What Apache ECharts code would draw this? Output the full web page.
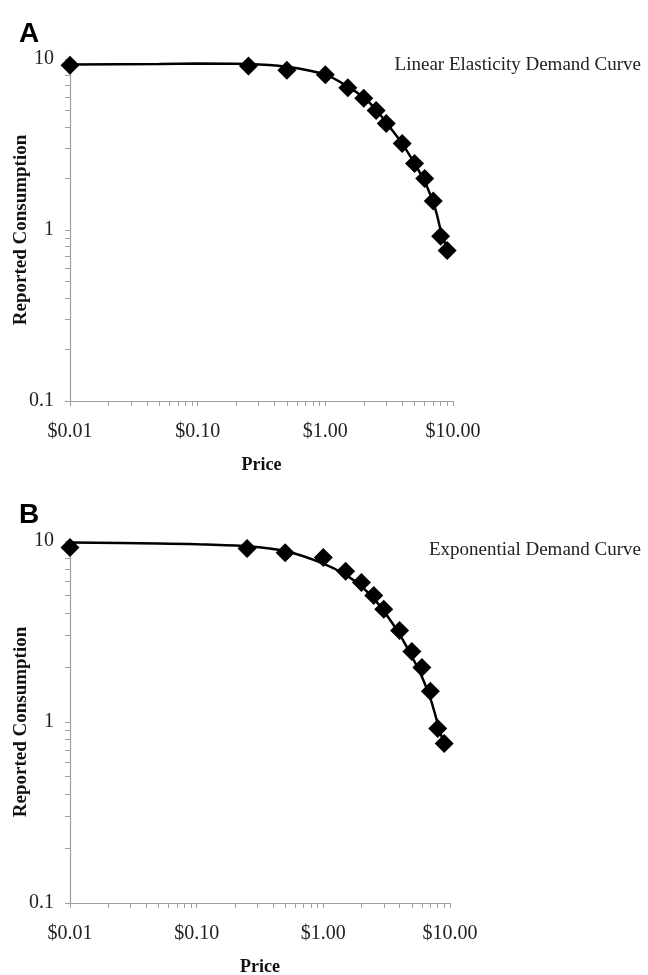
<!DOCTYPE html>
<html>
<head>
<meta charset="utf-8">
<script src="https://cdn.jsdelivr.net/npm/echarts@6/dist/echarts.min.js"></script>
<style>
  html, body { margin: 0; padding: 0; background: #fff; }
  #chart { width: 648px; height: 975px; }
</style>
</head>
<body>
<div id="chart"></div>
<script>
// observed prices and reported consumption (same data in both panels)
var prices = [0.01, 0.25, 0.5, 1, 1.5, 2, 2.5, 3, 4, 5, 6, 7, 8, 9];
var consumption = [9.2, 9.1, 8.6, 8.1, 6.8, 5.9, 5.0, 4.2, 3.2, 2.45, 2.0, 1.48, 0.92, 0.76];

// fitted curves
var curvePrices = [0.01, 0.05, 0.1, 0.25, 0.5, 1, 1.5, 2, 2.5, 3, 4, 5, 6, 7, 7.5, 8, 8.5, 9];
var linearCurve = [9.3, 9.35, 9.4, 9.35, 9.0, 8.1, 6.9, 5.95, 5.05, 4.25, 3.2, 2.45, 1.92, 1.45, 1.22, 1.0, 0.87, 0.77];
var expCurve = [9.8, 9.7, 9.6, 9.35, 8.8, 7.5, 6.5, 5.6, 4.8, 4.1, 3.05, 2.3, 1.78, 1.35, 1.15, 0.98, 0.85, 0.75];

// tick labels
var xTickLabels = [0.01, 0.1, 1, 10];
var yTickLabels = [0.1, 1, 10];

var panelNames = ['A', 'B'];
var curveNames = ['Linear Elasticity Demand Curve', 'Exponential Demand Curve'];

// minor ticks 1..9 inside each decade
function logTicks(lo, hi) {
    var out = [];
    for (var d = lo; d < hi - 1e-12; d *= 10) {
        for (var k = 1; k < 10; k++) out.push(+(d * k).toPrecision(3));
    }
    out.push(hi);
    return out;
}

var chart = echarts.init(document.getElementById('chart'));

var serif = 'Liberation Serif, Times New Roman, serif';
var grids = [
    { left: 70, top: 59, width: 383, height: 342, containLabel: false, outerBoundsMode: 'none' },
    { left: 70, top: 541, width: 380, height: 362, containLabel: false, outerBoundsMode: 'none' }
];

function pairs(xs, ys) {
    return xs.map(function (x, i) { return [x, ys[i]]; });
}

var xAxes = [], yAxes = [], series = [];
for (var g = 0; g < 2; g++) {
    xAxes.push({
        type: 'log', logBase: 10, gridIndex: g,
        min: 0.01, max: 10,
        name: 'Price', nameLocation: 'middle', nameGap: 55, nameMoveOverlap: false,
        nameTextStyle: { fontFamily: serif, fontWeight: 'bold', fontSize: 18, color: '#111' },
        axisLine: { lineStyle: { color: '#a0a0a0', width: 1.2 } },
        axisTick: { show: true, length: 5, customValues: logTicks(0.01, 10), lineStyle: { color: '#a0a0a0' } },
        axisLabel: {
            customValues: xTickLabels, margin: 21,
            fontFamily: serif, fontSize: 20, color: '#222',
            formatter: function (v) { return '$' + Number(v).toFixed(2); }
        },
        splitLine: { show: false }
    });
    yAxes.push({
        type: 'log', logBase: 10, gridIndex: g,
        min: 0.1, max: 10,
        name: 'Reported Consumption', nameLocation: 'middle', nameGap: 39, nameMoveOverlap: false,
        nameTextStyle: { fontFamily: serif, fontWeight: 'bold', fontSize: 19, color: '#111' },
        axisLine: { show: true, lineStyle: { color: '#a0a0a0', width: 1.2 } },
        axisTick: { show: true, length: 5, customValues: logTicks(0.1, 10), lineStyle: { color: '#a0a0a0' } },
        axisLabel: {
            customValues: yTickLabels, margin: 16,
            fontFamily: serif, fontSize: 20, color: '#222',
            formatter: function (v) { return String(+Number(v).toPrecision(3)); }
        },
        splitLine: { show: false }
    });
    series.push({
        type: 'line', xAxisIndex: g, yAxisIndex: g,
        data: pairs(curvePrices, g === 0 ? linearCurve : expCurve),
        smooth: 0.3, showSymbol: false, symbol: 'none',
        lineStyle: { color: '#000', width: 2.5 }, z: 2, silent: true
    });
    series.push({
        type: 'scatter', xAxisIndex: g, yAxisIndex: g,
        data: pairs(prices, consumption),
        symbol: 'diamond', symbolSize: [19, 19],
        itemStyle: { color: '#000', opacity: 1 }, z: 3
    });
}

var titles = [];
for (var i = 0; i < 2; i++) {
    titles.push({
        text: panelNames[i], left: 14, top: i === 0 ? 15 : 496,
        textStyle: { fontFamily: 'Liberation Sans, Arial, sans-serif', fontWeight: 'bold', fontSize: 28, color: '#000' }
    });
    titles.push({
        text: curveNames[i], right: 2, top: i === 0 ? 51 : 536,
        textStyle: { fontFamily: serif, fontWeight: 'normal', fontSize: 19, color: '#222' }
    });
}

chart.setOption({
    animation: false,
    backgroundColor: '#fff',
    title: titles,
    grid: grids,
    xAxis: xAxes,
    yAxis: yAxes,
    series: series
});
</script>
</body>
</html>
